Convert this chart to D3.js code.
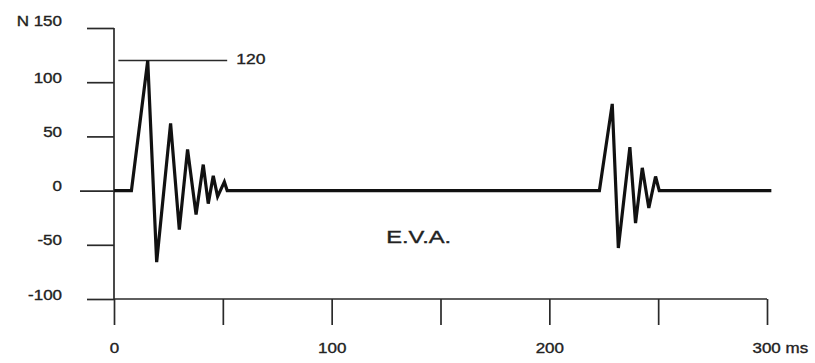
<!DOCTYPE html>
<html>
<head>
<meta charset="utf-8">
<script src="https://cdn.jsdelivr.net/npm/d3@7"></script>
<style>
  html, body { margin: 0; padding: 0; background: #fff; }
  svg { display: block; }
  text { font-family: "Liberation Sans", Arial, Helvetica, sans-serif; fill: #222; stroke: #222; stroke-width: 0.35px; }
</style>
</head>
<body>
<svg id="chart" width="815" height="363"></svg>
<script>
// Force trace (N) against time (ms): an impact burst and a second, smaller burst.
const timeMs = [0, 8, 15.5, 19.6, 26, 30, 33.8, 37.7, 41, 43.3, 45.6, 47.6, 50.7, 52,
                223, 228.9, 231.7, 237, 239.6, 242.7, 245.7, 248.8, 250.5, 302];
const forceN = [0, 0, 120, -66, 62, -36, 38, -22, 24, -12, 13.6, -5.5, 8, 0,
                0, 80, -53, 40, -30, 21, -16, 13, 0, 0];

const yTicks = [-100, -50, 0, 50, 100, 150];
const yTickLabels = ["-100", "-50", "0", "50", "100", "N 150"];
const xTicks = [0, 50, 100, 150, 200, 250, 300];
const xTickLabels = ["0", "", "100", "", "200", "", "300 ms"];

// Peak marker and the material label
const peakValue = 120;
const peakSpan = [2, 52];
const peakLabel = "120";
const materialLabel = "E.V.A.";
const materialAt = [140, -48];

const svg = d3.select("#chart");
const x = d3.scaleLinear().domain([0, 300]).range([114, 767]);
const y = d3.scaleLinear().domain([-100, 150]).range([299, 28]);

const axisColor = "#2a2a2a";
const axisWidth = 1.7;

// Glyphs are drawn a little wider than the font's natural width
const widen = 1.17;
function stretch(sel) {
  sel.each(function () {
    const w = this.getComputedTextLength();
    if (w > 0) {
      d3.select(this).attr("textLength", w * widen).attr("lengthAdjust", "spacingAndGlyphs");
    }
  });
}

// Y axis
const yAxis = d3.axisLeft(y)
  .tickValues(yTicks)
  .tickSize(27)
  .tickSizeOuter(0)
  .tickPadding(25)
  .tickFormat((d, i) => yTickLabels[i]);

const gy = svg.append("g").attr("transform", `translate(${x(0)},0)`).call(yAxis);
gy.select(".domain").remove();
gy.selectAll(".tick line").attr("stroke", axisColor).attr("stroke-width", axisWidth)
  .attr("x2", d => d === 0 ? -34 : -27);
gy.selectAll(".tick text")
  .attr("dy", d => d === 150 ? "-0.2em" : "0")
  .attr("font-size", 14.5)
  .attr("fill", "#222")
  .attr("font-family", "Liberation Sans, Arial, sans-serif")
  .call(stretch);

// X axis
const xAxis = d3.axisBottom(x)
  .tickValues(xTicks)
  .tickSize(26)
  .tickSizeOuter(0)
  .tickFormat((d, i) => xTickLabels[i]);

const gx = svg.append("g").attr("transform", `translate(0,${y(-100)})`).call(xAxis);
gx.select(".domain").remove();
gx.selectAll(".tick line").attr("stroke", axisColor).attr("stroke-width", axisWidth);
gx.selectAll(".tick text")
  .attr("y", 54)
  .attr("dy", 0)
  .attr("font-size", 14.5)
  .attr("fill", "#222")
  .attr("font-family", "Liberation Sans, Arial, sans-serif")
  .call(stretch);
// the unit follows the last number, which stays centred on its tick
gx.selectAll(".tick text").filter(d => d === 300)
  .attr("text-anchor", "start")
  .attr("x", -15);

// Axis lines
svg.append("line")
  .attr("x1", x(0)).attr("x2", x(0))
  .attr("y1", y(150)).attr("y2", y(-100))
  .attr("stroke", axisColor).attr("stroke-width", axisWidth);
svg.append("line")
  .attr("x1", x(0)).attr("x2", x(300))
  .attr("y1", y(-100)).attr("y2", y(-100))
  .attr("stroke", axisColor).attr("stroke-width", axisWidth);

// Peak reference line
svg.append("line")
  .attr("x1", x(peakSpan[0])).attr("x2", x(peakSpan[1]))
  .attr("y1", y(peakValue)).attr("y2", y(peakValue))
  .attr("stroke", axisColor).attr("stroke-width", axisWidth);
svg.append("text")
  .attr("x", x(peakSpan[1]) + 9)
  .attr("y", y(peakValue) + 3)
  .attr("font-size", 15)
  .text(peakLabel)
  .call(stretch);

// Signal trace
const line = d3.line()
  .x((d, i) => x(timeMs[i]))
  .y(d => y(d));

svg.append("path")
  .datum(forceN)
  .attr("d", line)
  .attr("fill", "none")
  .attr("stroke", "#111")
  .attr("stroke-width", 3.2)
  .attr("stroke-linejoin", "miter")
  .attr("stroke-miterlimit", 4);

// Material label
svg.append("text")
  .attr("x", x(materialAt[0]))
  .attr("y", y(materialAt[1]))
  .attr("text-anchor", "middle")
  .attr("font-size", 16)
  .text(materialLabel)
  .each(function () {
    d3.select(this).attr("textLength", 65).attr("lengthAdjust", "spacingAndGlyphs");
  });
</script>
</body>
</html>
